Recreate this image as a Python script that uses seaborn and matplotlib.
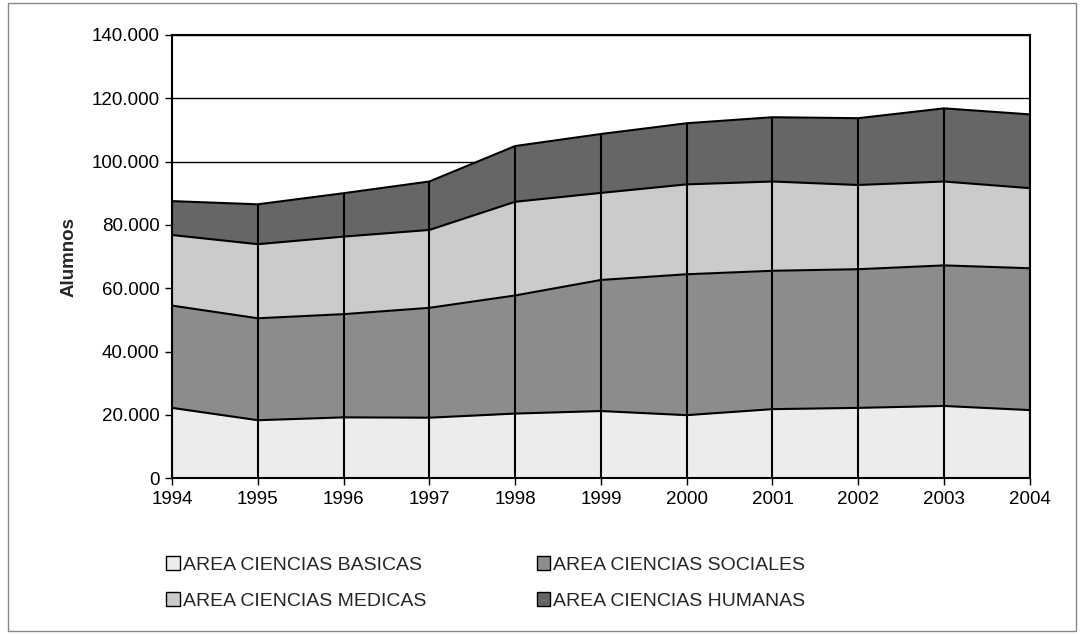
import numpy as np
import pandas as pd
import matplotlib
matplotlib.use("Agg")
import matplotlib.pyplot as plt
import matplotlib.ticker as mticker
from matplotlib.patches import Patch, Rectangle
import seaborn as sns

years = [1994, 1995, 1996, 1997, 1998, 1999, 2000, 2001, 2002, 2003, 2004]
basicas = [22200, 18300, 19200, 19100, 20400, 21200, 19900, 21800, 22200, 22800, 21500]
sociales = [32300, 32200, 32600, 34700, 37300, 41400, 44500, 43700, 43800, 44400, 44800]
medicas = [22300, 23400, 24500, 24600, 29600, 27500, 28400, 28200, 26600, 26500, 25300]
humanas = [10700, 12600, 13700, 15300, 17600, 18600, 19300, 20300, 21100, 23100, 23300]
labels = ["AREA CIENCIAS BASICAS", "AREA CIENCIAS SOCIALES",
          "AREA CIENCIAS MEDICAS", "AREA CIENCIAS HUMANAS"]
colors = ["#ececec", "#8c8c8c", "#cbcbcb", "#666666"]

sns.set_style("white")
plt.rcParams["font.family"] = ["Liberation Sans", "DejaVu Sans"]

series = [basicas, sociales, medicas, humanas]
cum = np.cumsum(np.array(series), axis=0)
df = pd.DataFrame({"year": np.tile(years, 4),
                   "total": cum.ravel(),
                   "serie": np.repeat(labels, len(years))})

fig = plt.figure(figsize=(10.84, 6.35), dpi=100)
ax = fig.add_axes([0.1587, 0.247, 0.7913, 0.698])

ax.stackplot(years, *series, colors=colors, linewidth=0, zorder=2)
sns.lineplot(data=df, x="year", y="total", hue="serie", palette=["black"] * 4,
             linewidth=1.5, legend=False, ax=ax, zorder=3)
ax.vlines(years, 0, cum[-1], colors="black", linewidth=1.5, zorder=3)

ax.set_xlim(years[0], years[-1])
ax.set_ylim(0, 140000)
ax.set_yticks(range(0, 140001, 20000))
ax.set_xticks(years)
ax.yaxis.set_major_formatter(mticker.FuncFormatter(lambda v, p: f"{int(v):,}".replace(",", ".")))
ax.grid(axis="y", color="black", linewidth=1.0, zorder=0)
ax.set_axisbelow(True)
for s in ax.spines.values():
    s.set_color("black")
    s.set_linewidth(1.5)
ax.tick_params(axis="both", direction="out", length=5, width=1, colors="black",
               labelsize=13.5, pad=4, bottom=True, left=True)
ax.set_xlabel("")
ax.set_ylabel("Alumnos", fontsize=13.5, fontweight="bold", labelpad=10)

handles = [Patch(facecolor=c, edgecolor="black", linewidth=1) for c in colors]
order = [0, 2, 1, 3]
fig.legend([handles[i] for i in order], [labels[i] for i in order], ncol=2,
           loc="upper left", bbox_to_anchor=(166 / 1084, 1 - 556 / 635), frameon=False,
           fontsize=14, handlelength=0.7, handleheight=0.7, handletextpad=0.15,
           columnspacing=5.7, labelspacing=0.95, borderpad=0, borderaxespad=0)

fig.patches.append(Rectangle((0.007, 0.006), 0.986, 0.99, transform=fig.transFigure,
                             fill=False, edgecolor="#888888", linewidth=1))

fig.savefig("out.png", dpi=100)
